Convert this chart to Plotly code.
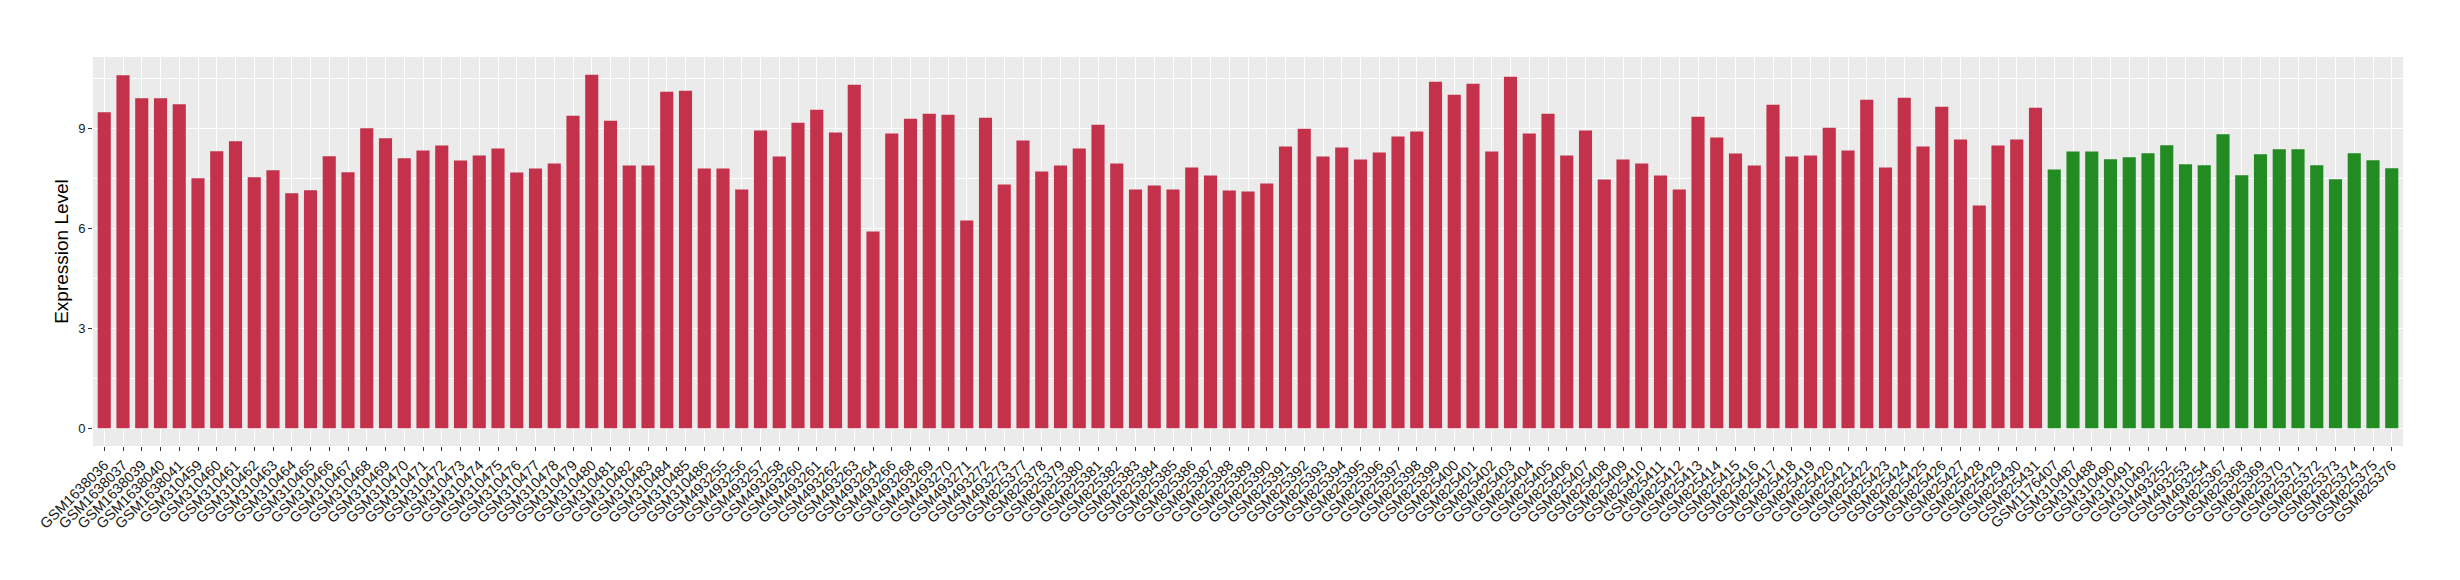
import plotly.graph_objects as go

# ---------------- data ----------------
red_samples = (
    ["GSM1638036", "GSM1638037", "GSM1638039", "GSM1638040", "GSM1638041"]
    + [f"GSM310{n}" for n in range(459, 487)]
    + ["GSM493255", "GSM493256", "GSM493257", "GSM493258", "GSM493260", "GSM493261",
       "GSM493262", "GSM493263", "GSM493264", "GSM493266", "GSM493268", "GSM493269",
       "GSM493270", "GSM493271", "GSM493272", "GSM493273"]
    + [f"GSM825{n}" for n in range(377, 432)]
)
red_values = [
    9.49, 10.60, 9.91, 9.91, 9.73,
    7.51, 8.32, 8.62, 7.54, 7.75, 7.06, 7.15, 8.17, 7.69, 9.01, 8.71, 8.11,
    8.34, 8.49, 8.04, 8.19, 8.40, 7.68, 7.80, 7.95, 9.39, 10.62, 9.24, 7.89,
    7.89, 10.11, 10.14, 7.80,
    7.80, 7.17, 8.94, 8.16, 9.18, 9.57, 8.88, 10.32, 5.91, 8.85, 9.30, 9.45,
    9.42, 6.24, 9.33, 7.32,
    8.64, 7.71, 7.89, 8.40, 9.12, 7.95, 7.17, 7.29, 7.17, 7.83, 7.59, 7.14,
    7.11, 7.35, 8.46, 9.00, 8.16, 8.43, 8.07, 8.28, 8.76, 8.91, 10.41, 10.02,
    10.35, 8.31, 10.56, 8.85, 9.45, 8.19, 8.94, 7.47, 8.07, 7.95, 7.59, 7.17,
    9.36, 8.73, 8.25, 7.89, 9.72, 8.16, 8.19, 9.03, 8.34, 9.87, 7.83, 9.93,
    8.46, 9.66, 8.67, 6.69, 8.49, 8.67, 9.63,
]

green_samples = (
    ["GSM1176407", "GSM310487", "GSM310488", "GSM310490", "GSM310491", "GSM310492",
     "GSM493252", "GSM493253", "GSM493254"]
    + [f"GSM825{n}" for n in range(367, 377)]
)
green_values = [
    7.77, 8.31, 8.31, 8.08, 8.14, 8.26, 8.50, 7.93, 7.90,
    8.83, 7.60, 8.23, 8.38, 8.38, 7.90, 7.48, 8.26, 8.05, 7.81,
]

y_ticks = [0, 3, 6, 9]

RED = "#C3314A"
GREEN = "#228B22"

samples = red_samples + green_samples
values = red_values + green_values
colors = [RED] * len(red_values) + [GREEN] * len(green_values)

ymax = max(values)
pad = 0.05 * ymax

fig = go.Figure(
    go.Bar(
        x=samples,
        y=values,
        marker=dict(color=colors, line=dict(width=0)),
        width=0.7,
        showlegend=False,
    )
)

FONT = "Liberation Sans, Arial, Helvetica, sans-serif"

# page body has an 8px default margin: size the figure so it fits the window
fig.update_layout(
    width=2444,
    height=564,
    margin=dict(l=85, r=49, t=49, b=126),
    paper_bgcolor="white",
    plot_bgcolor="#EBEBEB",
    font=dict(family=FONT, color="#1a1a1a"),
    bargap=0.3,
)

fig.update_xaxes(
    type="category",
    categoryorder="array",
    categoryarray=samples,
    range=[-0.6, len(samples) - 1 + 0.6],
    tickangle=-45,
    tickfont=dict(size=14.5, color="#1a1a1a", family=FONT),
    showgrid=True,
    gridcolor="white",
    gridwidth=1.1,
    ticks="outside",
    ticklen=4,
    tickcolor="#333333",
    tickwidth=1,
    showline=False,
    zeroline=False,
    automargin=False,
)

fig.update_yaxes(
    range=[-pad, ymax + pad],
    tickvals=y_ticks,
    ticktext=[str(v) for v in y_ticks],
    tickfont=dict(size=13, color="#1a1a1a", family=FONT),
    title=dict(text="Expression Level", font=dict(size=19, color="black", family=FONT), standoff=4),
    showgrid=True,
    gridcolor="white",
    gridwidth=1.1,
    minor=dict(tickvals=[1.5, 4.5, 7.5, 10.5], showgrid=True, gridcolor="white", gridwidth=0.5, ticks=""),
    ticks="outside",
    ticklen=4,
    tickcolor="#333333",
    tickwidth=1,
    zeroline=False,
    showline=False,
    automargin=False,
)

fig.write_html("out.html")
